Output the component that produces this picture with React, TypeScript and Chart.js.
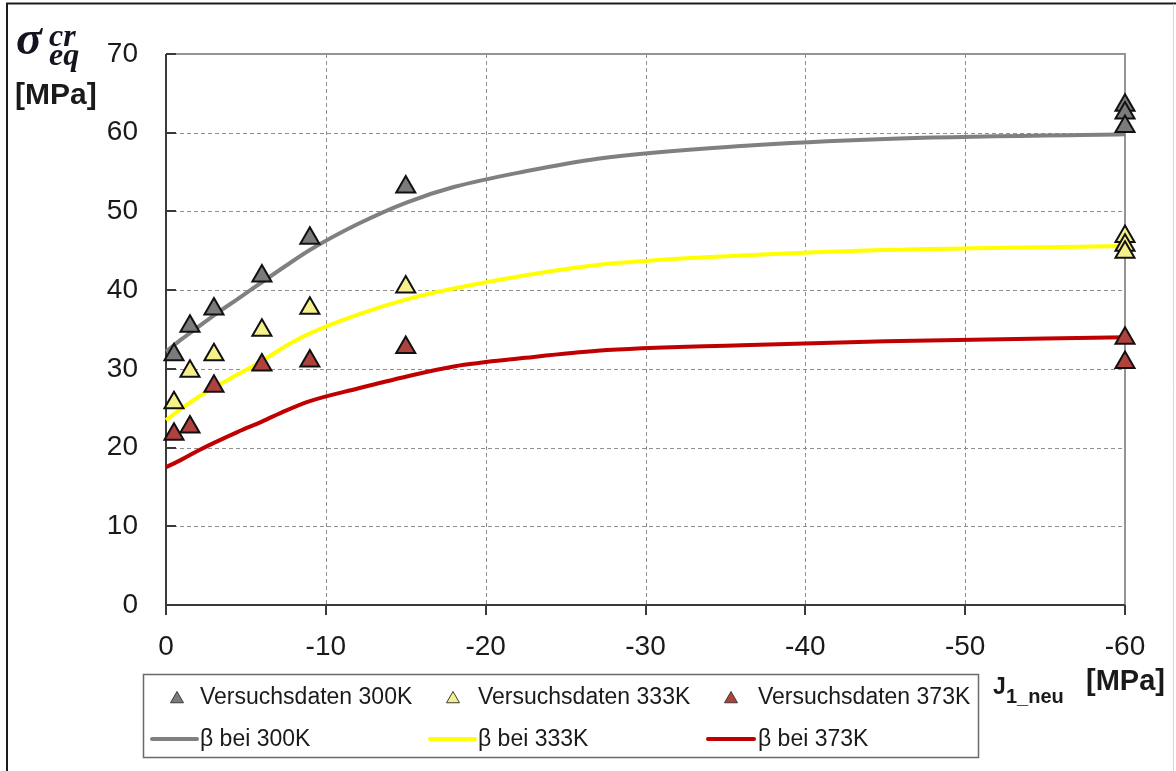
import React, { useEffect, useRef } from "react";
import { Chart, registerables } from "chart.js";

Chart.register(...registerables);

// ---- data ----
const xTest300 = [-0.5, -1.5, -3, -6, -9, -15, -60, -60, -60];
const yTest300 = [31.8, 35.4, 37.6, 41.8, 46.6, 53.1, 63.5, 62.5, 60.8];
const xTest333 = [-0.5, -1.5, -3, -6, -9, -15, -60, -60, -60];
const yTest333 = [25.7, 29.7, 31.8, 34.9, 37.7, 40.4, 46.8, 45.7, 44.8];
const xTest373 = [-0.5, -1.5, -3, -6, -9, -15, -60, -60];
const yTest373 = [21.7, 22.6, 27.8, 30.5, 31.0, 32.7, 33.9, 30.8];

const xModel = [0, -1, -2, -3, -4.5, -6, -7.5, -9, -12, -15, -18, -22.5, -27, -36, -45, -60];
const beta300 = [32.2, 33.8, 35.3, 36.8, 38.9, 41.0, 43.1, 45.1, 48.4, 51.1, 53.1, 55.1, 56.7, 58.3, 59.2, 59.8];
const beta333 = [23.5, 25.0, 26.4, 27.6, 29.3, 31.0, 32.9, 34.5, 36.9, 38.8, 40.2, 41.9, 43.2, 44.4, 45.1, 45.6];
const beta373 = [17.5, 18.5, 19.6, 20.6, 22.0, 23.3, 24.7, 25.9, 27.5, 29.0, 30.3, 31.4, 32.3, 33.0, 33.5, 34.0];

const seriesLabels = [
  "Versuchsdaten 300K",
  "Versuchsdaten 333K",
  "Versuchsdaten 373K",
  "β bei 300K",
  "β bei 333K",
  "β bei 373K",
];

const xMin = -60;
const xMax = 0;
const yMin = 0;
const yMax = 70;
const tickStep = 10;

const FONT = "'Liberation Sans', Arial, sans-serif";
const TEXT = "#1a1a1a";

const toPts = (xs: number[], ys: number[]) => xs.map((x, i) => ({ x, y: ys[i] }));

function triangle(ctx: CanvasRenderingContext2D, x: number, y: number, r: number) {
  let rad = 0;
  ctx.beginPath();
  ctx.moveTo(x + Math.sin(rad) * r, y - Math.cos(rad) * r);
  rad += (2 * Math.PI) / 3;
  ctx.lineTo(x + Math.sin(rad) * r, y - Math.cos(rad) * r);
  rad += (2 * Math.PI) / 3;
  ctx.lineTo(x + Math.sin(rad) * r, y - Math.cos(rad) * r);
  ctx.closePath();
}

const decorPlugin = {
  id: "decor",
  beforeDatasetsDraw(chart: any) {
    const { ctx, chartArea: a, scales } = chart;
    const xs = scales.x;
    const ys = scales.y;
    ctx.save();
    // dashed grid
    ctx.setLineDash([4, 3]);
    ctx.strokeStyle = "#8f8f8f";
    ctx.lineWidth = 1;
    ys.ticks.forEach((t: any) => {
      if (t.value <= yMin || t.value >= yMax) return;
      const py = Math.round(ys.getPixelForValue(t.value)) + 0.5;
      ctx.beginPath();
      ctx.moveTo(a.left, py);
      ctx.lineTo(a.right, py);
      ctx.stroke();
    });
    xs.ticks.forEach((t: any) => {
      if (t.value <= xMin || t.value >= xMax) return;
      const px = Math.round(xs.getPixelForValue(t.value)) + 0.5;
      ctx.beginPath();
      ctx.moveTo(px, a.top);
      ctx.lineTo(px, a.bottom);
      ctx.stroke();
    });
    ctx.setLineDash([]);
    // top & right plot border (grey)
    ctx.strokeStyle = "#959595";
    ctx.lineWidth = 2;
    ctx.beginPath();
    ctx.moveTo(a.left, a.top);
    ctx.lineTo(a.right, a.top);
    ctx.lineTo(a.right, a.bottom);
    ctx.stroke();
    // axes (dark)
    ctx.strokeStyle = "#3a3a3a";
    ctx.lineWidth = 2;
    ctx.beginPath();
    ctx.moveTo(a.left, a.top);
    ctx.lineTo(a.left, a.bottom);
    ctx.lineTo(a.right, a.bottom);
    ctx.stroke();
    // y ticks inside
    ys.ticks.forEach((t: any) => {
      const py = Math.round(ys.getPixelForValue(t.value));
      ctx.beginPath();
      ctx.moveTo(a.left, py);
      ctx.lineTo(a.left + 10, py);
      ctx.stroke();
    });
    // x ticks outside
    xs.ticks.forEach((t: any) => {
      const px = Math.round(xs.getPixelForValue(t.value));
      ctx.beginPath();
      ctx.moveTo(px, a.bottom);
      ctx.lineTo(px, a.bottom + 10);
      ctx.stroke();
    });
    ctx.restore();
  },
  afterDraw(chart: any) {
    const { ctx } = chart;
    const ds = chart.data.datasets;
    ctx.save();
    // outer frame
    ctx.strokeStyle = "#1c1c1c";
    ctx.lineWidth = 2;
    ctx.beginPath();
    ctx.moveTo(7, 771);
    ctx.lineTo(7, 3.5);
    ctx.lineTo(1176, 3.5);
    ctx.stroke();
    ctx.strokeStyle = "#d6d6d6";
    ctx.lineWidth = 1;
    ctx.beginPath();
    ctx.moveTo(1173.5, 4);
    ctx.lineTo(1173.5, 771);
    ctx.stroke();

    // y-axis title: sigma_eq^cr [MPa]
    ctx.fillStyle = "#141420";
    ctx.textBaseline = "alphabetic";
    ctx.textAlign = "left";
    ctx.font = "bold italic 48px 'Liberation Serif', serif";
    ctx.fillText("σ", 16, 54);
    ctx.font = "bold italic 32px 'Liberation Serif', serif";
    ctx.fillText("cr", 49, 46);
    ctx.fillText("eq", 49, 65);
    ctx.fillStyle = TEXT;
    ctx.font = `bold 30px ${FONT}`;
    ctx.fillText("[MPa]", 15, 104);

    // x-axis title: J_1_neu [MPa]
    ctx.font = `bold 23px ${FONT}`;
    ctx.fillText("J", 993, 694);
    ctx.font = `bold 20px ${FONT}`;
    ctx.fillText("1_neu", 1006, 703);
    ctx.font = `bold 29px ${FONT}`;
    ctx.fillText("[MPa]", 1086, 690);

    // legend box
    ctx.fillStyle = "#ffffff";
    ctx.fillRect(143, 674, 836, 83);
    ctx.strokeStyle = "#6a6a6a";
    ctx.lineWidth = 1.5;
    ctx.strokeRect(143.5, 674.5, 835, 83);

    const colX = [177, 453, 731];
    const textX = [200, 478, 758];
    const lineX = [[152, 197], [430, 475], [708, 754]];
    ctx.font = `23px ${FONT}`;
    ctx.textBaseline = "middle";
    for (let i = 0; i < 3; i++) {
      const d = ds[i];
      triangle(ctx, colX[i], 699, 7.5);
      ctx.fillStyle = d.pointBackgroundColor;
      ctx.fill();
      ctx.strokeStyle = "#3a3a3a";
      ctx.lineWidth = 1;
      ctx.stroke();
      ctx.fillStyle = TEXT;
      ctx.fillText(d.label, textX[i], 698);
    }
    for (let i = 0; i < 3; i++) {
      const d = ds[i + 3];
      ctx.strokeStyle = d.borderColor;
      ctx.lineWidth = 4;
      ctx.lineCap = "round";
      ctx.beginPath();
      ctx.moveTo(lineX[i][0], 739);
      ctx.lineTo(lineX[i][1], 739);
      ctx.stroke();
      ctx.fillStyle = TEXT;
      ctx.fillText(d.label, textX[i], 740);
    }
    ctx.restore();
  },
};

export default function App() {
  const ref = useRef<HTMLCanvasElement | null>(null);

  useEffect(() => {
    if (!ref.current) return;
    const markerFills = ["#7b7b7b", "#f6f08c", "#b0423e"];
    const lineColors = ["#808080", "#ffff00", "#c00000"];
    const testX = [xTest300, xTest333, xTest373];
    const testY = [yTest300, yTest333, yTest373];
    const modelY = [beta300, beta333, beta373];

    const scatterSets = [0, 1, 2].map((i) => ({
      label: seriesLabels[i],
      data: toPts(testX[i], testY[i]),
      pointStyle: "triangle",
      pointRadius: 11,
      pointBorderWidth: 2,
      pointBackgroundColor: markerFills[i],
      pointBorderColor: "#111111",
      backgroundColor: markerFills[i],
      borderColor: "#111111",
      showLine: false,
      order: 1,
      clip: false,
    }));
    const lineSets = [0, 1, 2].map((i) => ({
      label: seriesLabels[i + 3],
      data: toPts(xModel, modelY[i]),
      showLine: true,
      borderColor: lineColors[i],
      backgroundColor: lineColors[i],
      borderWidth: 4,
      pointRadius: 0,
      cubicInterpolationMode: "monotone",
      order: 2,
      clip: false,
    }));

    const chart = new Chart(ref.current, {
      type: "scatter",
      data: { datasets: [...scatterSets, ...lineSets] as any },
      options: {
        animation: false,
        responsive: false,
        devicePixelRatio: 1,
        layout: { padding: { left: 0, top: 54, right: 51, bottom: 106 } },
        plugins: { legend: { display: false }, tooltip: { enabled: false } },
        scales: {
          x: {
            type: "linear",
            min: xMin,
            max: xMax,
            reverse: true,
            grid: { display: false, drawTicks: false },
            border: { display: false },
            ticks: {
              stepSize: tickStep,
              padding: 25,
              color: TEXT,
              font: { family: FONT, size: 28 },
              maxRotation: 0,
            },
            afterFit: (s: any) => {
              s.height = 60;
            },
          },
          y: {
            type: "linear",
            min: yMin,
            max: yMax,
            grid: { display: false, drawTicks: false },
            border: { display: false },
            ticks: {
              stepSize: tickStep,
              padding: 28,
              color: TEXT,
              font: { family: FONT, size: 28 },
            },
            afterFit: (s: any) => {
              s.width = 166;
            },
          },
        },
      },
      plugins: [decorPlugin],
    });
    return () => chart.destroy();
  }, []);

  return (
    <div style={{ position: "absolute", left: 0, top: 0, width: 1176, height: 771, background: "#fff" }}>
      <canvas ref={ref} width={1176} height={771} style={{ display: "block" }} />
    </div>
  );
}
